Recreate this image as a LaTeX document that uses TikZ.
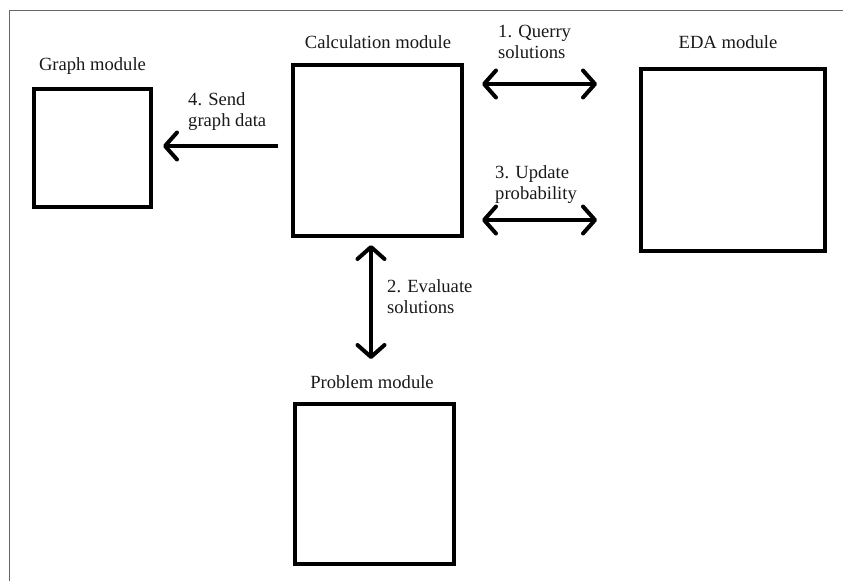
\documentclass[tikz,border=0pt]{standalone}
\usepackage{fontspec}
\setmainfont{Liberation Serif}
\usetikzlibrary{arrows.meta}
\begin{document}
\begin{tikzpicture}[x=1pt,y=-1pt,
  module/.style={draw=black,line width=4pt,rectangle,inner sep=0pt},
  lbl/.style={inner sep=0pt,font=\fontsize{18.6}{21}\selectfont,text=black!90},
  mlbl/.style={lbl,align=left,anchor=base west},
  dblarr/.style={line width=4pt,{Straight Barb[length=12pt,width=27pt,round]}-{Straight Barb[length=12pt,width=27pt,round]}},
  onearr/.style={line width=4pt,-{Straight Barb[length=12pt,width=27pt,round]}},
  frame/.style={draw=black!60,line width=1pt}]
\useasboundingbox (0,0) rectangle (843,581);
\coordinate (ftl) at (9,10);
\coordinate (ftr) at (843,10);
\coordinate (fbl) at (9,581);
\draw[frame] (ftr) -- (ftl) -- (fbl);

\node[module,minimum width=117pt,minimum height=118pt] (graph) at (92.5,148) {};
\node[module,minimum width=169pt,minimum height=171pt] (calc) at (377.5,150.5) {};
\node[module,minimum width=184pt,minimum height=182pt] (eda) at (733,160) {};
\node[module,minimum width=159pt,minimum height=160pt] (prob) at (374.5,484) {};

\node[lbl,anchor=base] (tgraph) at (92.5,70) {Graph module};
\node[lbl,anchor=base] (tcalc) at (378,48) {Calculation module};
\node[lbl,anchor=base] (teda) at (728,48) {EDA module};
\node[lbl,anchor=base] (tprob) at (372,388) {Problem module};

\node[mlbl] (l1) at (498,58) {1. Querry\\solutions};
\node[mlbl] (l4) at (188,126) {4. Send\\graph data};
\node[mlbl] (l3) at (495,199) {3. Update\\probability};
\node[mlbl] (l2) at (387,313) {2. Evaluate\\solutions};

\draw[dblarr,shorten <=18pt,shorten >=42pt] ([yshift=66.5pt]calc.east) -- ([yshift=76pt]eda.west);
\draw[dblarr,shorten <=18pt,shorten >=42pt] ([yshift=-69.5pt]calc.east) -- ([yshift=-60pt]eda.west);
\draw[onearr,shorten <=13pt,shorten >=10pt] ([yshift=4.5pt]calc.west) -- ([yshift=2pt]graph.east);
\draw[dblarr,shorten <=7pt,shorten >=43pt] ([xshift=-6.5pt]calc.south) -- ([xshift=-3.5pt]prob.north);
\end{tikzpicture}
\end{document}
